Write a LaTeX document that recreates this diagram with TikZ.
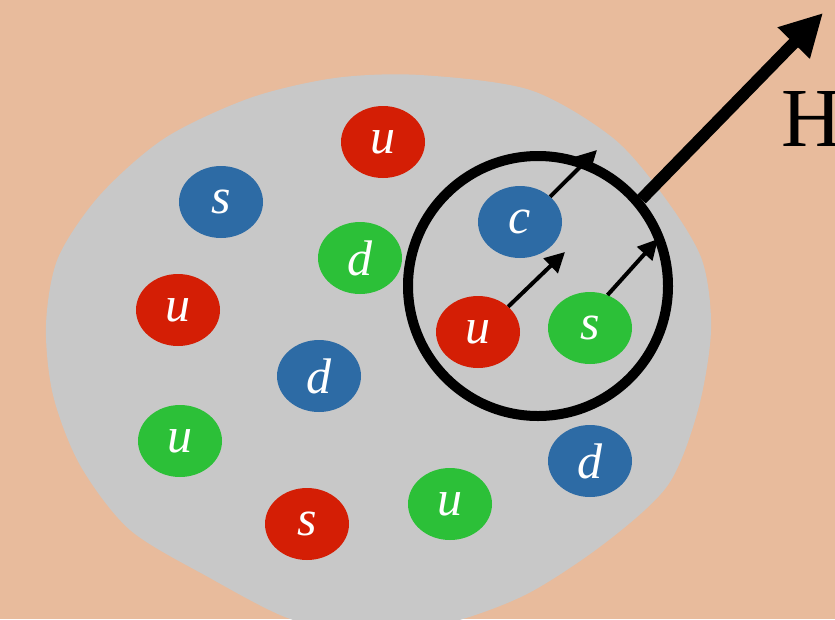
\documentclass[tikz,border=0pt]{standalone}
\usepackage{fontspec}
\setmainfont{Liberation Serif}
\usetikzlibrary{shapes.geometric,arrows.meta}
\definecolor{bgpeach}{RGB}{232,187,156}
\definecolor{blobgray}{RGB}{200,200,200}
\definecolor{qred}{RGB}{212,30,5}
\definecolor{qblue}{RGB}{45,107,165}
\definecolor{qgreen}{RGB}{44,192,56}
\begin{document}
\begin{tikzpicture}[x=1pt,y=-1pt,
  quark/.style={ellipse, minimum width=84pt, minimum height=72pt, inner sep=0pt,
    text=white, font=\fontsize{50}{50}\selectfont\itshape},
  qr/.style={quark, fill=qred},
  qb/.style={quark, fill=qblue},
  qg/.style={quark, fill=qgreen},
  smallarrow/.style={line width=4pt, -{Triangle[length=20pt,width=20pt]}},
  bigarrow/.style={line width=12pt, -{Triangle[length=42pt,width=42pt]}}]
\fill[bgpeach] (0,0) rectangle (835,619);
\useasboundingbox (0,0) rectangle (835,619);
\fill[blobgray] plot[smooth cycle, tension=0.5] coordinates {
  (420,75) (530,90) (613,138) (665,198) (702,260) (711,330) (698,410)
  (668,485) (605,543) (525,595) (440,625) (350,632) (285,617) (210,578)
  (130,530) (80,465) (53,395) (46,325) (58,258) (100,195) (165,138)
  (250,98) (335,78)};
% quarks
\node[qr] (u1) at (383,142) {u};
\node[qb] (s1) at (221,202) {s};
\node[qg] (d1) at (360,258) {d};
\node[qr] (u2) at (178,310) {u};
\node[qb] (d2) at (319,376) {d};
\node[qg] (u3) at (180,441) {u};
\node[qr] (s2) at (307,524) {s};
\node[qg] (u4) at (450,504) {u};
\node[qb] (d3) at (590,461) {d};
\node[qr] (uin) at (478,332) {u};
\node[qg] (sin) at (590,328) {s};
\node[qb] (cin) at (520,222) {c};
% hadron circle
\node[circle, draw=black, line width=10pt, minimum size=260pt, inner sep=0pt] (had) at (538,286) {};
% small arrows
\coordinate (tu) at (565,252);
\coordinate (ts) at (658,239);
\coordinate (tc) at (597,150);
\draw[smallarrow] (uin.40) -- (tu);
\draw[smallarrow] (sin.62) -- (ts);
\draw[smallarrow] (cin.40) -- (tc);
% big arrow
\coordinate (tH) at (823,13);
\draw[bigarrow] (had.40) -- (tH);
\node[anchor=base west, inner sep=0pt, font=\fontsize{84}{84}\selectfont] (H) at (781,146) {H};
\end{tikzpicture}
\end{document}
